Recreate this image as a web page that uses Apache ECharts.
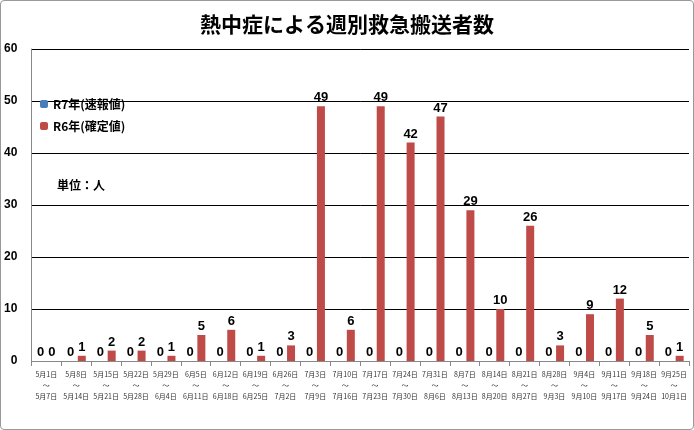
<!DOCTYPE html><html><head><meta charset="utf-8">
<script src="https://cdn.jsdelivr.net/npm/echarts@6/dist/echarts.min.js"></script>
<style>html,body{margin:0;padding:0;background:#fff}#c{width:694px;height:430px;box-sizing:border-box;border:1px solid #999;border-radius:4px}</style>
</head><body><div id="c"></div><script>
const categories=['5月1日\n～\n5月7日','5月8日\n～\n5月14日','5月15日\n～\n5月21日','5月22日\n～\n5月28日','5月29日\n～\n6月4日','6月5日\n～\n6月11日','6月12日\n～\n6月18日','6月19日\n～\n6月25日','6月26日\n～\n7月2日','7月3日\n～\n7月9日','7月10日\n～\n7月16日','7月17日\n～\n7月23日','7月24日\n～\n7月30日','7月31日\n～\n8月6日','8月7日\n～\n8月13日','8月14日\n～\n8月20日','8月21日\n～\n8月27日','8月28日\n～\n9月3日','9月4日\n～\n9月10日','9月11日\n～\n9月17日','9月18日\n～\n9月24日','9月25日\n～\n10月1日'];
const r7=[0,0,0,0,0,0,0,0,0,0,0,0,0,0,0,0,0,0,0,0,0,0];
const r6=[0,1,2,2,1,5,6,1,3,49,6,49,42,47,29,10,26,3,9,12,5,1];
const lbl={show:true,position:'top',fontSize:13,fontWeight:'bold',color:'#000',distance:2};
const ch=echarts.init(document.getElementById('c'));
ch.setOption({
 animation:false,
 title:{text:'熱中症による週別救急搬送者数',left:'center',top:8,textStyle:{fontSize:21,fontWeight:'bold',color:'#000',fontFamily:'Noto Sans CJK JP'}},
 legend:{orient:'vertical',left:34,top:92,itemWidth:8,itemHeight:8,itemGap:10,textStyle:{fontSize:12,fontWeight:'bold',color:'#000',fontFamily:'Noto Sans CJK JP'},data:['R7年(速報値)','R6年(確定値)']},
 graphic:[{type:'text',left:56,top:178,style:{text:'単位：人',fontSize:12,fontWeight:'bold',fill:'#000',fontFamily:'Noto Sans CJK JP'}}],
 grid:{left:30,right:4,top:48,bottom:68},
 xAxis:{type:'category',data:categories,axisTick:{show:true,alignWithLabel:false,lineStyle:{color:'#888'}},axisLine:{lineStyle:{color:'#888'}},axisLabel:{interval:0,fontSize:7,color:'#333',lineHeight:11,fontFamily:'Noto Sans CJK JP'}},
 yAxis:{type:'value',min:0,max:60,interval:10,axisLine:{show:true,lineStyle:{color:'#888'}},splitLine:{lineStyle:{color:'#000'}},axisLabel:{fontSize:12,fontWeight:'bold',color:'#000',margin:14}},
 series:[
  {name:'R7年(速報値)',type:'bar',data:r7,barWidth:8,barGap:'40%',itemStyle:{color:'#4a7ebb'},label:lbl},
  {name:'R6年(確定値)',type:'bar',data:r6,barWidth:8,itemStyle:{color:'#be4b48'},label:lbl}
 ]
});
</script></body></html>
